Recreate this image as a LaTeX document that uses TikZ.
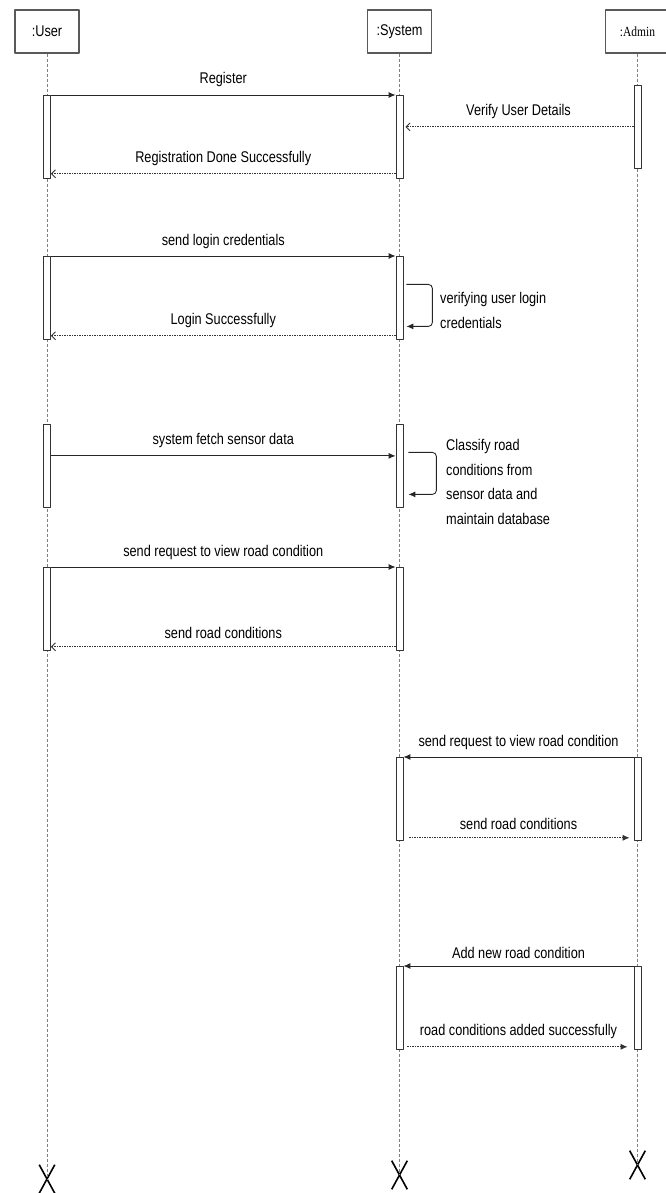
\documentclass[tikz,border=0pt]{standalone}
\usepackage{fontspec}
\setmainfont[FakeStretch=0.82]{Liberation Sans}
\newfontfamily\adminfont[FakeStretch=0.82]{Liberation Serif}
\usetikzlibrary{arrows.meta,shapes.misc}

\tikzset{
  obj/.style={draw=black!65,line width=1.2pt,minimum width=64pt,minimum height=43pt,inner sep=0pt},
  lifeline/.style={draw=gray,line width=0.7pt,dash pattern=on 3pt off 2pt},
  act/.style={draw=black!80,fill=white,line width=0.8pt,minimum width=7pt,minimum height=83pt,inner sep=0pt,anchor=north},
  msg/.style={-{Latex[length=7pt,width=6pt]},line width=0.9pt,draw=black!85},
  ret/.style={line width=0.9pt,draw=black!80,dash pattern=on 1.5pt off 1pt},
  openhead/.style={-{Straight Barb[length=4pt,width=8pt]}},
  lbl/.style={font=\fontsize{15.5}{24.5}\selectfont,text=black},
  endx/.style={cross out,draw,line width=1.6pt,minimum width=14pt,minimum height=27pt,inner sep=0pt}
}

\begin{document}
\begin{tikzpicture}[x=1pt,y=-1pt,line join=round]
  \useasboundingbox (0,0) rectangle (665,1193);
  \node[obj,lbl] (user) at (47,31.5) {:User};
  \node[obj,lbl] (sys) at (399.5,31.5) {:System};
  \node[obj,font=\adminfont\fontsize{14}{14}\selectfont] (admin) at (637.5,31.5) {:Admin};
  \node[endx] (userx) at (47,1179) {};
  \node[endx] (sysx) at (399.5,1175) {};
  \node[endx] (adminx) at (637.5,1165) {};
  \draw[lifeline] (user) -- (userx.center);
  \draw[lifeline] (sys) -- (sysx.center);
  \draw[lifeline] (admin) -- (adminx.center);

  \foreach \n/\y in {1/95,2/256,3/424,4/567}
    \node[act] (u\n) at (47,\y) {};
  \foreach \n/\y in {1/95,2/256,3/424,4/567,5/757,6/966}
    \node[act] (s\n) at (399.5,\y) {};
  \foreach \n/\y in {1/85,2/757,3/966}
    \node[act] (a\n) at (637.5,\y) {};

  \draw[msg] (u1.north east) -- (s1.north west) node[lbl,midway,above=4pt] {Register};
  \draw[ret,openhead,shorten >=2pt] (a1.west) -- (s1.east |- a1.west)
    node[lbl,midway,above=4pt] {Verify User Details};
  \draw[ret,openhead] ([yshift=5pt]s1.south west) -- ([yshift=5pt]u1.south east)
    node[lbl,midway,above=4pt] {Registration Done Successfully};

  \draw[msg] (u2.north east) -- (s2.north west) node[lbl,midway,above=4pt] {send login credentials};
  \draw[msg,rounded corners=4pt] ([xshift=3pt,yshift=13.5pt]s2.east) -- ++(26,0) -- ++(0,42)
    node[lbl,midway,right=4pt,yshift=-5pt,align=left] {verifying user login\\credentials} -- ++(-26,0);
  \draw[ret,openhead] ([yshift=4pt]s2.south west) -- ([yshift=4pt]u2.south east)
    node[lbl,midway,above=4pt] {Login Successfully};

  \draw[msg] ([yshift=10pt]u3.east) -- ([yshift=10pt]s3.west) node[lbl,midway,above=4pt] {system fetch sensor data};
  \draw[msg,rounded corners=4pt] ([xshift=5pt,yshift=13.5pt]s3.east) -- ++(28,0) -- ++(0,42)
    node[lbl,midway,right=6pt,yshift=-8.5pt,align=left] {Classify road\\conditions from\\sensor data and\\maintain database} -- ++(-28,0);

  \draw[msg] (u4.north east) -- (s4.north west) node[lbl,midway,above=4pt] {send request to view road condition};
  \draw[ret,openhead] ([yshift=4pt]s4.south west) -- ([yshift=4pt]u4.south east)
    node[lbl,midway,above=4pt] {send road conditions};

  \draw[msg] (a2.north west) -- (s5.north east) node[lbl,midway,above=4pt] {send request to view road condition};
  \draw[ret,-{Latex[length=7pt,width=6pt]},shorten <=6pt,shorten >=4pt] ([yshift=3pt]s5.south east) -- ([yshift=3pt]a2.south west)
    node[lbl,midway,above=4pt] {send road conditions};

  \draw[msg] (a3.north west) -- (s6.north east) node[lbl,midway,above=4pt] {Add new road condition};
  \draw[ret,-{Latex[length=7pt,width=6pt]},shorten <=4pt,shorten >=6pt] ([yshift=3pt]s6.south east) -- ([yshift=3pt]a3.south west)
    node[lbl,midway,above=4pt] {road conditions added successfully};
\end{tikzpicture}
\end{document}
